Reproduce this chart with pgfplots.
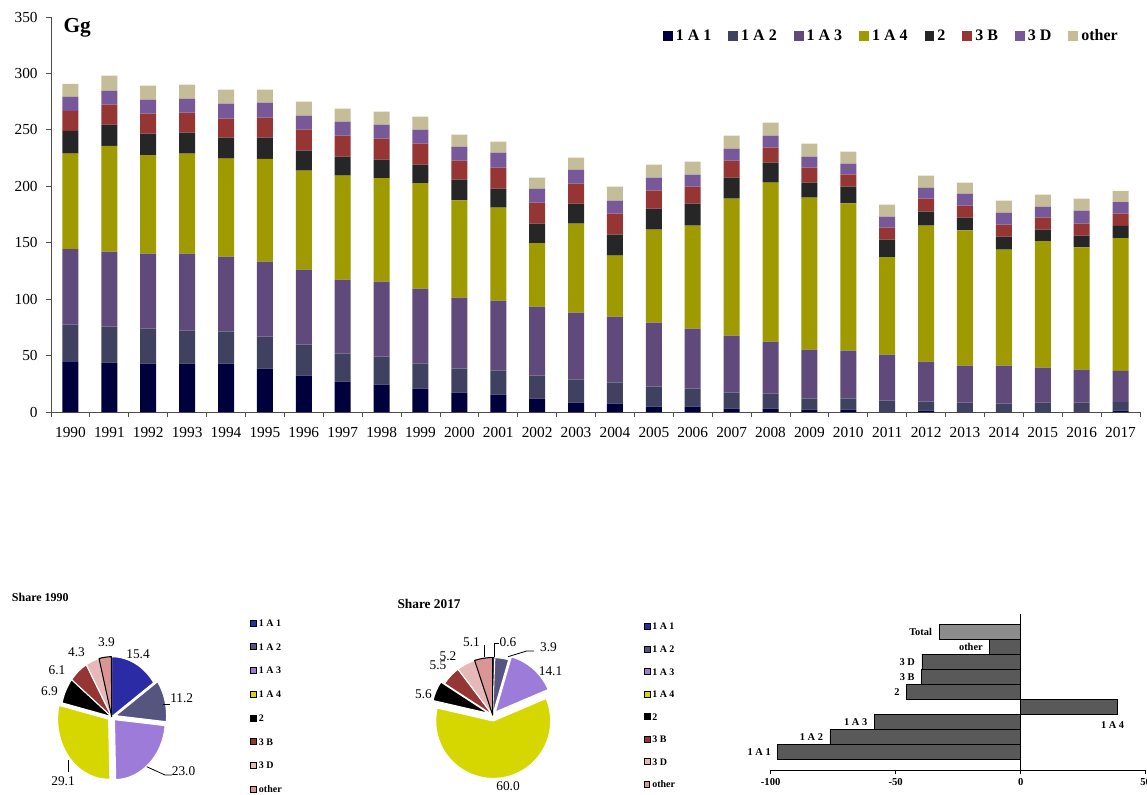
\documentclass[border=0pt]{standalone}
\usepackage{pgfplots}
\pgfplotsset{compat=1.18}
\usepackage{pgfplotstable}
\usepackage{fontspec}
\setmainfont{Liberation Serif}

\definecolor{cA}{HTML}{00003C}
\definecolor{cB}{HTML}{404060}
\definecolor{cC}{HTML}{604A7B}
\definecolor{cD}{HTML}{9E9A00}
\definecolor{cE}{HTML}{262626}
\definecolor{cF}{HTML}{963634}
\definecolor{cG}{HTML}{77599A}
\definecolor{cH}{HTML}{C4BD97}
\definecolor{pA}{HTML}{2B2BA6}
\definecolor{pB}{HTML}{55557F}
\definecolor{pC}{HTML}{9C7CD8}
\definecolor{pD}{HTML}{D6D600}
\definecolor{pE}{HTML}{000000}
\definecolor{pF}{HTML}{963634}
\definecolor{pG}{HTML}{E6B9B8}
\definecolor{pH}{HTML}{D99694}
\definecolor{hbar}{HTML}{595959}
\definecolor{htot}{HTML}{8C8C8C}

\tikzset{lbl/.style={anchor=east, inner sep=0pt, xshift=-5pt, font=\fontsize{7.8}{9}\selectfont\bfseries}}

\pgfplotstableread{
x a1 a2 a3 a4 b2 b3 b4 oth
0 44.8 32.6 66.9 84.7 20.1 17.8 12.5 11.3
1 43.7 31.9 66.5 93.6 18.9 17.7 12.4 13.3
2 42.8 31.0 66.5 87.4 18.9 17.7 12.4 12.4
3 42.8 29.3 68.2 88.6 18.6 17.7 12.4 12.4
4 42.8 28.4 66.4 86.9 18.6 16.8 13.3 12.4
5 38.4 28.3 66.5 91.0 18.9 17.7 13.3 11.5
6 32.2 27.5 66.4 87.7 17.7 18.6 12.5 12.4
7 26.9 24.8 65.5 92.2 16.8 18.6 12.4 11.6
8 24.2 24.8 66.5 91.8 16.3 18.6 12.4 11.5
9 20.7 22.1 66.5 93.6 16.2 18.6 12.4 11.6
10 17.1 21.3 62.9 86.2 18.3 16.9 12.4 10.6
11 15.4 21.2 62.0 82.4 16.9 18.6 13.3 9.7
12 11.8 20.4 61.1 56.4 17.2 18.6 12.4 9.7
13 8.3 20.3 59.4 78.9 17.7 17.7 12.4 10.6
14 7.4 18.6 58.5 54.0 18.6 18.6 11.5 12.4
15 4.7 17.7 56.7 82.4 18.7 15.9 11.5 11.5
16 4.7 16.0 53.1 91.3 19.5 15.0 10.7 11.5
17 3.0 14.1 50.5 121.4 18.6 15.1 10.6 11.5
18 3.0 13.2 46.1 140.9 17.7 13.3 10.6 11.5
19 2.1 9.7 43.4 134.7 13.3 13.3 9.7 11.5
20 2.1 9.7 42.5 130.6 14.7 10.7 9.7 10.7
21 0.5 9.5 40.8 86.5 15.4 10.6 9.8 10.6
22 1.2 8.0 35.4 120.5 12.4 11.5 9.8 10.6
23 0.5 7.8 32.8 119.9 11.2 10.6 10.6 9.8
24 0.5 6.9 33.7 102.7 11.5 10.7 10.6 10.6
25 0.5 7.8 31.0 112.2 10.0 10.7 9.7 10.7
26 0.5 7.8 29.2 108.4 10.3 10.7 11.5 10.6
27 1.2 7.6 27.6 117.6 11.0 10.8 10.2 10.0
}\emis

\newcommand\drawpie[3]{%
  \gdef\cumang{90}%
  \foreach \vv/\cc/\ee/\dd in {#3}{%
    \pgfmathsetmacro\aS{\cumang}%
    \pgfmathsetmacro\aE{\cumang-3.6*\vv}%
    \pgfmathsetmacro\aM{(\aS+\aE)/2}%
    \filldraw[fill=\cc, draw=\dd, line width=0.8pt, line join=round]
      ([shift={(\aM:\ee pt)}]axis cs:0,0) -- ++(\aS:#1 and #2)
      arc[start angle=\aS, end angle=\aE, x radius=#1, y radius=#2] -- cycle;%
    \xdef\cumang{\aE}%
  }%
}

\begin{document}
\begin{tikzpicture}
\path[use as bounding box] (0,0) rectangle (860.25pt,595.5pt);

% ---------------- stacked bar chart ----------------
\begin{axis}[
  at={(38.25pt,286.5pt)}, anchor=south west,
  scale only axis, width=816.75pt, height=296.25pt,
  ybar stacked, bar width=12pt,
  xmin=-0.5, xmax=27.5, ymin=0, ymax=350,
  axis x line*=bottom, axis y line*=left,
  axis line style={black!70, line width=0.6pt},
  xtick={0,...,27},
  xticklabels={1990,1991,1992,1993,1994,1995,1996,1997,1998,1999,2000,2001,2002,2003,2004,2005,2006,2007,2008,2009,2010,2011,2012,2013,2014,2015,2016,2017},
  major x tick style={draw=none},
  minor xtick={-0.5,0.5,...,27.5},
  ytick={0,50,...,350},
  tick align=outside, major tick length=4pt, minor tick length=4pt,
  tick style={black!70, line width=0.6pt},
  /pgf/number format/assume math mode=true,
  ticklabel style={font=\fontsize{11.5}{13}\selectfont},
  xticklabel style={yshift=-4.3pt},
  yticklabel style={xshift=-2.5pt},
  legend columns=8,
  legend style={at={(0.9798,0.9519)}, anchor=east, draw=none, fill=none,
    inner sep=0pt, font=\fontsize{12}{14}\selectfont\bfseries,
    nodes={inner sep=0pt},
    /tikz/every odd column/.append style={column sep=2.25pt},
    /tikz/every even column/.append style={column sep=12.75pt}},
  legend image code/.code={\fill[#1] (0pt,-3.7pt) rectangle (7.4pt,3.7pt);},
]
\addplot[fill=cA, draw=none] table[x=x,y=a1]{\emis}; \addlegendentry{1 A 1}
\addplot[fill=cB, draw=none] table[x=x,y=a2]{\emis}; \addlegendentry{1 A 2}
\addplot[fill=cC, draw=none] table[x=x,y=a3]{\emis}; \addlegendentry{1 A 3}
\addplot[fill=cD, draw=none] table[x=x,y=a4]{\emis}; \addlegendentry{1 A 4}
\addplot[fill=cE, draw=none] table[x=x,y=b2]{\emis}; \addlegendentry{2}
\addplot[fill=cF, draw=none] table[x=x,y=b3]{\emis}; \addlegendentry{3 B}
\addplot[fill=cG, draw=none] table[x=x,y=b4]{\emis}; \addlegendentry{3 D}
\addplot[fill=cH, draw=none] table[x=x,y=oth]{\emis}; \addlegendentry{other}
\end{axis}

% ---------------- pie 1990 ----------------
\begin{axis}[
  at={(83.78pt,57.98pt)}, anchor=center,
  scale only axis, width=76.5pt, height=90pt,
  xmin=-1, xmax=1, ymin=-1, ymax=1, hide axis, clip=false,
  legend cell align=left,
  legend style={at={(1.856,1.31)}, anchor=north west, draw=none, fill=none,
    inner sep=0pt, font=\fontsize{7.5}{8}\selectfont\bfseries,
    nodes={inner sep=0pt, text height=5pt, text depth=0pt},
    row sep=12.8pt,
    /tikz/every odd column/.append style={column sep=1.5pt}},
  legend image code/.code={\filldraw[#1] (0pt,-2.1pt) rectangle (4.4pt,2.3pt);},
]
\pgfplotsextra{\drawpie{38.25pt}{45pt}{15.4/pA/0/white, 11.2/pB/3/white, 23.0/pC/3/white, 29.1/pD/3/white, 6.9/pE/0/white, 6.1/pF/0/white, 4.3/pG/0/white, 3.9/pH/0/black}}
\addlegendimage{fill=pA, draw=none}\addlegendentry{1 A 1}
\addlegendimage{fill=pB, draw=none}\addlegendentry{1 A 2}
\addlegendimage{fill=pC, draw=none}\addlegendentry{1 A 3}
\addlegendimage{fill=pD, draw=none}\addlegendentry{1 A 4}
\addlegendimage{fill=pE, draw=none}\addlegendentry{2}
\addlegendimage{fill=pF, draw=none}\addlegendentry{3 B}
\addlegendimage{fill=pG, draw=none}\addlegendentry{3 D}
\addlegendimage{fill=pH, draw=black, line width=0.6pt}\addlegendentry{other}
\end{axis}

% ---------------- pie 2017 ----------------
\begin{axis}[
  at={(369.5pt,59.25pt)}, anchor=center,
  scale only axis, width=86.25pt, height=86.25pt,
  xmin=-1, xmax=1, ymin=-1, ymax=1, hide axis, clip=false,
  legend cell align=left,
  legend style={at={(1.81,1.30)}, anchor=north west, draw=none, fill=none,
    inner sep=0pt, font=\fontsize{7.5}{8}\selectfont\bfseries,
    nodes={inner sep=0pt, text height=5pt, text depth=0pt},
    row sep=11.9pt,
    /tikz/every odd column/.append style={column sep=1.5pt}},
  legend image code/.code={\filldraw[#1] (0pt,-2.1pt) rectangle (4.4pt,2.3pt);},
]
\pgfplotsextra{\drawpie{43.1pt}{43.1pt}{0.6/pA/0/black, 3.9/pB/0/white, 14.1/pC/3/white, 60.0/pD/4.5/white, 5.6/pE/3/white, 5.5/pF/0/white, 5.2/pG/0/white, 5.1/pH/0/black}}
\addlegendimage{fill=pA, draw=none}\addlegendentry{1 A 1}
\addlegendimage{fill=pB, draw=none}\addlegendentry{1 A 2}
\addlegendimage{fill=pC, draw=none}\addlegendentry{1 A 3}
\addlegendimage{fill=pD, draw=none}\addlegendentry{1 A 4}
\addlegendimage{fill=pE, draw=none}\addlegendentry{2}
\addlegendimage{fill=pF, draw=none}\addlegendentry{3 B}
\addlegendimage{fill=pG, draw=none}\addlegendentry{3 D}
\addlegendimage{fill=pH, draw=black, line width=0.6pt}\addlegendentry{other}
\end{axis}

% ---------------- change 1990-2017 (%) ----------------
\begin{axis}[
  at={(578pt,18pt)}, anchor=south west,
  scale only axis, width=281.25pt, height=117pt,
  xbar, bar width=1, bar shift=0pt,
  xmin=-100, xmax=50, ymin=-1.213, ymax=9.187,
  axis x line*=bottom, axis y line=none,
  axis line style={black, line width=0.6pt},
  xtick={-100,-50,0,50}, ytick=\empty,
  tick align=outside, major tick length=3pt,
  tick style={black, line width=0.6pt},
  /pgf/number format/assume math mode=true,
  xticklabel style={font=\fontsize{8}{9}\selectfont\bfseries},
  clip=false,
]
\addplot[fill=hbar, draw=black, line width=0.6pt] coordinates {
  (-97.2,0) (-76.3,1) (-58.6,2) (38.8,3) (-45.7,4) (-39.7,5) (-39.5,6) (-12.4,7)
};
\addplot[fill=htot, draw=black, line width=0.6pt] coordinates {(-32.7,8)};
\draw[black, line width=0.6pt] (axis cs:0,-1.213) -- (axis cs:0,9.187);
\node[lbl] at (axis cs:-97.2,0) {1 A 1};
\node[lbl] at (axis cs:-76.3,1) {1 A 2};
\node[lbl] at (axis cs:-58.6,2) {1 A 3};
\node[lbl] at (axis cs:-45.7,4) {2};
\node[lbl] at (axis cs:-39.7,5) {3 B};
\node[lbl] at (axis cs:-39.5,6) {3 D};
\node[lbl] at (axis cs:-12.4,7) {other};
\node[lbl] at (axis cs:-32.7,8) {Total};
\node[lbl, xshift=5pt] at (axis cs:41.5,1.8) {1 A 4};
\end{axis}

% ---------------- texts in pixel coordinates ----------------
\begin{scope}[x=0.75pt, y=-0.75pt, shift={(0pt,595.5pt)}]
\node[anchor=base west, inner sep=0pt, font=\fontsize{16}{18}\selectfont\bfseries] at (63.3,33) {Gg};
\node[anchor=west, inner sep=0pt, font=\fontsize{9}{10}\selectfont\bfseries] at (11.7,597.3) {Share 1990};
\node[anchor=west, inner sep=0pt, font=\fontsize{10}{11}\selectfont\bfseries] at (397.3,604.3) {Share 2017};
\begin{scope}[every node/.style={inner sep=0pt, font=\fontsize{10}{11}\selectfont}]
% 1990
\node at (138,654) {15.4};
\node[anchor=west] at (170,698) {11.2};
\node at (183.5,771) {23.0};
\node at (63,781) {29.1};
\node at (49.5,691) {6.9};
\node at (57,670) {6.1};
\node at (76.5,652) {4.3};
\node at (106.5,642) {3.9};
\draw[black, line width=0.6pt] (162.7,704) -- (170,704);
\draw[black, line width=0.6pt] (146.7,766.7) -- (165,775) -- (172,775);
\draw[black, line width=0.6pt] (68.3,760) -- (68.3,772);
% 2017
\node at (508,642) {0.6};
\node at (548.5,647.5) {3.9};
\node at (550.5,671) {14.1};
\node at (508,786) {60.0};
\node at (423.5,694) {5.6};
\node at (438,665) {5.5};
\node at (448,656) {5.2};
\node at (471.5,642) {5.1};
\draw[black, line width=0.6pt] (494.3,657) -- (494.3,643) -- (499,643);
\draw[black, line width=0.6pt] (508,656.7) -- (526.7,651) -- (534,651);
\draw[black, line width=0.6pt] (484,656.7) -- (484,645);
\end{scope}
\end{scope}
\end{tikzpicture}
\end{document}
